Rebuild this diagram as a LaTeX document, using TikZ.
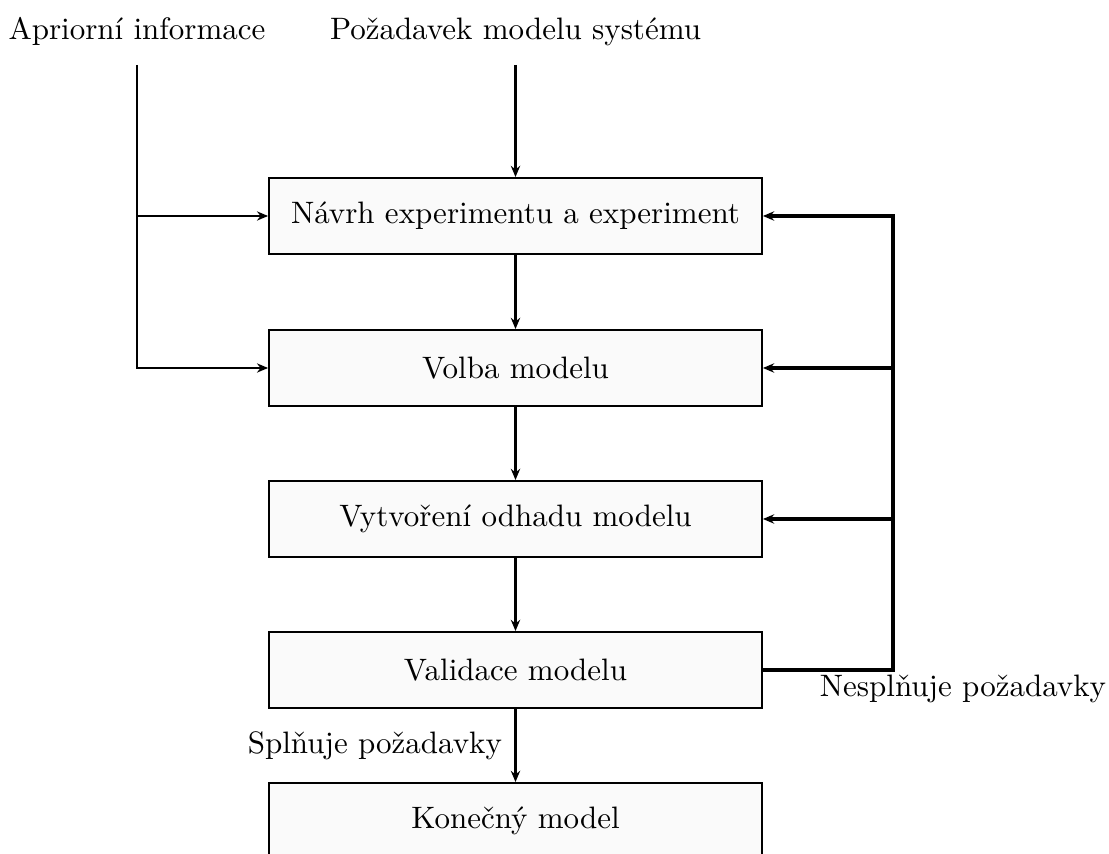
\documentclass[tikz,border=0pt]{standalone}
\usetikzlibrary{arrows.meta}
\begin{document}
\begin{tikzpicture}[x=0.3226pt,y=-0.3226pt,
  stepbox/.style={draw,line width=0.65pt,fill=black!2,minimum width=159pt,minimum height=24.5pt,inner sep=2pt},
  arr/.style={-{Stealth[length=3.6pt,width=3pt]}},
  thinln/.style={line width=0.45pt},
  mainln/.style={line width=0.75pt},
  fbln/.style={line width=1pt},
  lbl/.style={anchor=base,inner sep=0pt}]
\useasboundingbox (0,0) rectangle (1109,854);
\clip (0,0) rectangle (1109,854);
\node[stepbox] (b1) at (515.5,216) {Návrh experimentu a experiment};
\node[stepbox] (b2) at (515.5,368) {Volba modelu};
\node[stepbox] (b3) at (515.5,519) {Vytvoření odhadu modelu};
\node[stepbox] (b4) at (515.5,670) {Validace modelu};
\node[stepbox] (b5) at (515.5,821) {Konečný model};
\node[lbl] (tapr) at (137,40) {Apriorní informace};
\node[lbl] (tpoz) at (515.5,40) {Požadavek modelu systému};
\coordinate (ai) at (137,65);
\coordinate (pi) at (515.5,65);
\coordinate (fb) at (893,670);
\draw[thinln,arr] (ai) |- (b2.west);
\draw[thinln,arr] (ai |- b1.west) -- (b1.west);
\draw[mainln,arr] (pi) -- (b1.north);
\draw[mainln,arr] (b1) -- (b2);
\draw[mainln,arr] (b2) -- (b3);
\draw[mainln,arr] (b3) -- (b4);
\draw[mainln,arr] (b4) -- node[lbl,anchor=east,inner sep=0pt,xshift=-4pt] (tspl) {Splňuje požadavky} (b5);
\draw[fbln,arr] (b4.east) -- (fb) |- (b1.east);
\draw[fbln,arr] (fb |- b2.east) -- (b2.east);
\draw[fbln,arr] (fb |- b3.east) -- (b3.east);
\node[lbl] (tnes) at (963,697) {Nesplňuje požadavky};
\end{tikzpicture}
\end{document}
